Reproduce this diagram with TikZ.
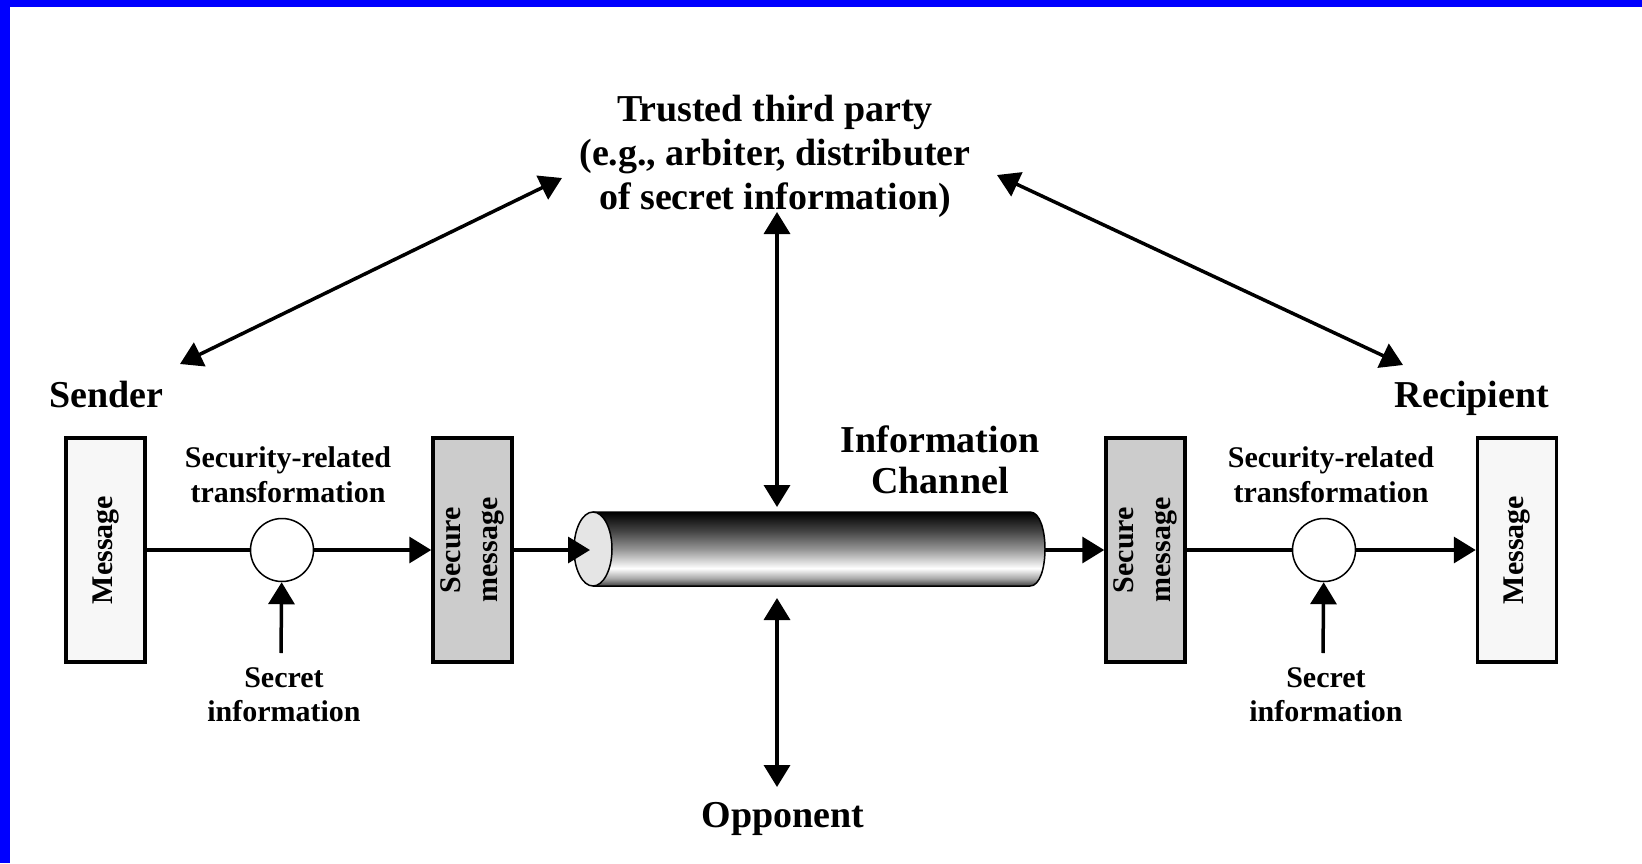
\documentclass[tikz,border=0pt]{standalone}
\usepackage{fontspec}
\setmainfont{Liberation Serif}
\usetikzlibrary{arrows.meta}
\pgfdeclareverticalshading{chanshade}{100bp}{color(0bp)=(black!75); color(25bp)=(black!75); color(30bp)=(black!35); color(37bp)=(white); color(50bp)=(black!42); color(62bp)=(black!73); color(75bp)=(black); color(100bp)=(black)}
\begin{document}
\begin{tikzpicture}[x=1pt,y=-1pt,
  bigtxt/.style={font=\fontsize{38}{44}\selectfont\bfseries, inner sep=0pt, align=center},
  smalltxt/.style={font=\fontsize{30}{35}\selectfont\bfseries, inner sep=0pt, align=center},
  msgbox/.style={draw, line width=3.5pt, fill=black!3, rotate=90, minimum width=224pt, minimum height=79pt, inner sep=0pt, align=center, font=\fontsize{30}{37}\selectfont\bfseries},
  secbox/.style={msgbox, fill=black!20},
  xform/.style={circle, draw, line width=1.5pt, fill=white, minimum size=63pt, inner sep=0pt},
  link/.style={line width=3.5pt},
  arr/.style={link, -{Triangle[length=22pt,width=26pt]}},
  darr/.style={link, {Triangle[length=22pt,width=26pt]}-{Triangle[length=22pt,width=26pt]}},
  chanline/.style={line width=1.5pt}
]
\useasboundingbox (0,0) rectangle (1642,863);
\fill[white] (0,0) rectangle (1642,863);
\fill[blue] (0,0) rectangle (1642,7);
\fill[blue] (0,0) rectangle (10,863);

% boxes and transformations
\node[msgbox] (msgL) at (105.5,550) {Message};
\node[xform] (cL) at (282,550) {};
\node[secbox] (secL) at (472.5,550) {Secure\\message};
\node[secbox] (secR) at (1145.5,550) {Secure\\message};
\node[xform] (cR) at (1324,550) {};
\node[msgbox] (msgR) at (1517,550) {Message};

% information channel (cylinder)
\shade[shading=chanshade] (593,512) -- (1030,512) .. controls (1050,512) and (1050,586) .. (1030,586) -- (593,586) -- cycle;
\draw[chanline] (593,512) -- (1030,512) .. controls (1050,512) and (1050,586) .. (1030,586) -- (593,586);
\draw[chanline, fill=black!10] (593,549) ellipse [x radius=19pt, y radius=37pt];
\coordinate (chanIn) at (590,550);
\coordinate (chanOut) at (1045,550);
\coordinate (chanTop) at (777,507);
\coordinate (chanBot) at (777,598);

% texts
\node[bigtxt] (ttp) at (775,156) {Trusted third party\\(e.g., arbiter, distributer\\of secret information)};
\node[bigtxt, font=\fontsize{38}{41}\selectfont\bfseries] (chan) at (940,460) {Information\\Channel};
\node[bigtxt, anchor=base] (sender) at (106.5,407) {Sender};
\node[bigtxt, anchor=base] (recip) at (1472,407) {Recipient};
\node[bigtxt, anchor=base] (opp) at (783,827) {Opponent};
\node[smalltxt] (srL) at (288,475) {Security-related\\transformation};
\node[smalltxt] (srR) at (1331,475) {Security-related\\transformation};
\node[smalltxt, font=\fontsize{30}{34}\selectfont\bfseries] (siL) at (284,695) {Secret\\information};
\node[smalltxt, font=\fontsize{30}{34}\selectfont\bfseries] (siR) at (1326,695) {Secret\\information};

% free ends
\coordinate (siLtop) at (281,653);
\coordinate (siRtop) at (1323,653);
\coordinate (ttpSW) at (562,178);
\coordinate (ttpSE) at (997,175);
\coordinate (ttpS) at (777,212);
\coordinate (sendEnd) at (180,364);
\coordinate (recEnd) at (1403,365);
\coordinate (oppTop) at (777,787);

% connectors
\draw[link] (msgL) -- (cL);
\draw[arr] (cL) -- (secL);
\draw[arr] (secL) -- (chanIn);
\draw[arr] (chanOut) -- (secR);
\draw[link] (secR) -- (cR);
\draw[arr] (cR) -- (msgR);
\draw[arr] (siLtop) -- (cL);
\draw[arr] (siRtop) -- (cR);
\draw[darr] (sendEnd) -- (ttpSW);
\draw[darr] (ttpSE) -- (recEnd);
\draw[darr] (ttpS) -- (chanTop);
\draw[darr] (chanBot) -- (oppTop);
\end{tikzpicture}
\end{document}
